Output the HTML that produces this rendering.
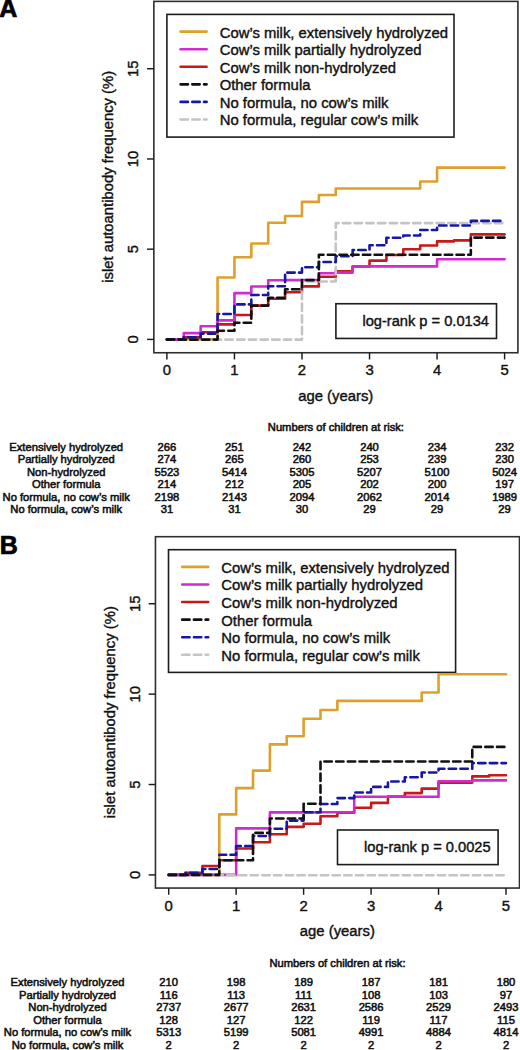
<!DOCTYPE html>
<html><head><meta charset="utf-8"><style>
html,body{margin:0;padding:0;background:#fff;}
svg{display:block;}
.t{font-family:"Liberation Sans", sans-serif;font-size:14.85px;fill:#111;stroke:#111;stroke-width:0.4px;}
.s{font-family:"Liberation Sans", sans-serif;font-size:11.2px;fill:#111;stroke:#111;stroke-width:0.55px;}
.L{font-family:"Liberation Sans", sans-serif;font-size:25px;font-weight:bold;fill:#000;stroke:#000;stroke-width:0.7px;}
.lg{font-size:14.85px;}
.lr{font-size:14.65px;}
</style></head><body>
<svg width="520" height="1050" viewBox="0 0 520 1050">
<rect width="520" height="1050" fill="#fff"/>
<rect x="153.85" y="1.40" width="364.05" height="351.35" fill="none" stroke="#2e2e2e" stroke-width="1.6"/>
<line x1="147.05" y1="339.40" x2="153.85" y2="339.40" stroke="#1c1c1c" stroke-width="1.45"/>
<text x="138.40" y="339.40" transform="rotate(-90 138.40 339.40)" text-anchor="middle" class="t">0</text>
<line x1="147.05" y1="249.18" x2="153.85" y2="249.18" stroke="#1c1c1c" stroke-width="1.45"/>
<text x="138.40" y="249.18" transform="rotate(-90 138.40 249.18)" text-anchor="middle" class="t">5</text>
<line x1="147.05" y1="158.97" x2="153.85" y2="158.97" stroke="#1c1c1c" stroke-width="1.45"/>
<text x="138.40" y="158.97" transform="rotate(-90 138.40 158.97)" text-anchor="middle" class="t">10</text>
<line x1="147.05" y1="68.75" x2="153.85" y2="68.75" stroke="#1c1c1c" stroke-width="1.45"/>
<text x="138.40" y="68.75" transform="rotate(-90 138.40 68.75)" text-anchor="middle" class="t">15</text>
<line x1="166.90" y1="352.75" x2="166.90" y2="359.45" stroke="#1c1c1c" stroke-width="1.45"/>
<text x="166.90" y="375.40" text-anchor="middle" class="t">0</text>
<line x1="234.44" y1="352.75" x2="234.44" y2="359.45" stroke="#1c1c1c" stroke-width="1.45"/>
<text x="234.44" y="375.40" text-anchor="middle" class="t">1</text>
<line x1="301.98" y1="352.75" x2="301.98" y2="359.45" stroke="#1c1c1c" stroke-width="1.45"/>
<text x="301.98" y="375.40" text-anchor="middle" class="t">2</text>
<line x1="369.52" y1="352.75" x2="369.52" y2="359.45" stroke="#1c1c1c" stroke-width="1.45"/>
<text x="369.52" y="375.40" text-anchor="middle" class="t">3</text>
<line x1="437.06" y1="352.75" x2="437.06" y2="359.45" stroke="#1c1c1c" stroke-width="1.45"/>
<text x="437.06" y="375.40" text-anchor="middle" class="t">4</text>
<line x1="504.60" y1="352.75" x2="504.60" y2="359.45" stroke="#1c1c1c" stroke-width="1.45"/>
<text x="504.60" y="375.40" text-anchor="middle" class="t">5</text>
<text x="113.20" y="176.80" transform="rotate(-90 113.20 176.80)" text-anchor="middle" class="t lg">islet autoantibody frequency (%)</text>
<text x="335.75" y="400.90" text-anchor="middle" class="t">age (years)</text>
<text x="-0.80" y="17.10" class="L">A</text>
<rect x="166.90" y="14.40" width="287.1" height="122.7" fill="#fff" stroke="#1c1c1c" stroke-width="1.6"/>
<path d="M180.60,31.60 H206.60" stroke="#DDA02A" stroke-width="2.6" stroke-linecap="round" fill="none"/>
<text x="219.70" y="37.50" class="t lg">Cow’s milk, extensively hydrolyzed</text>
<path d="M180.60,49.18 H206.60" stroke="#D02AD0" stroke-width="2.6" stroke-linecap="round" fill="none"/>
<text x="219.70" y="55.08" class="t lg">Cow’s milk partially hydrolyzed</text>
<path d="M180.60,66.76 H206.60" stroke="#C81818" stroke-width="2.6" stroke-linecap="round" fill="none"/>
<text x="219.70" y="72.66" class="t lg">Cow’s milk non-hydrolyzed</text>
<path d="M180.60,84.34 H206.60" stroke="#111111" stroke-width="2.6" stroke-linecap="round" stroke-dasharray="7.4 4.3" fill="none"/>
<text x="219.70" y="90.24" class="t lg">Other formula</text>
<path d="M180.60,101.92 H206.60" stroke="#1616A8" stroke-width="2.6" stroke-linecap="round" stroke-dasharray="7.4 4.3" fill="none"/>
<text x="219.70" y="107.82" class="t lg">No formula, no cow’s milk</text>
<path d="M180.60,119.50 H206.60" stroke="#C4C4C4" stroke-width="2.6" stroke-linecap="round" stroke-dasharray="7.4 4.3" fill="none"/>
<text x="219.70" y="125.40" class="t lg">No formula, regular cow’s milk</text>
<g fill="none" stroke-width="2.6" stroke-linecap="round" stroke-linejoin="round">
<path d="M166.90,339.40 H217.56 V277.50 H234.44 V257.20 H251.33 V243.50 H268.21 V222.70 H285.10 V216.00 H301.98 V201.90 H318.87 V195.00 H335.75 V188.50 H420.18 V181.50 H437.06 V167.60 H504.60" stroke="#DDA02A"/>
<path d="M166.90,339.40 H183.78 V337.20 H200.67 V332.20 H217.56 V324.40 H234.44 V315.00 H251.33 V305.60 H268.21 V298.75 H285.10 V292.30 H301.98 V286.40 H318.87 V276.80 H335.75 V271.40 H352.63 V266.50 H369.52 V260.60 H386.41 V255.00 H403.29 V249.20 H420.18 V245.50 H437.06 V241.40 H453.95 V240.40 H470.83 V234.40 H504.60" stroke="#C81818"/>
<path d="M166.90,339.40 H183.78 V333.10 H200.67 V326.20 H217.56 V320.40 H234.44 V293.10 H251.33 V286.50 H268.21 V280.20 H285.10 V280.10 H318.87 V273.30 H335.75 V272.60 H352.63 V266.40 H437.06 V259.20 H504.60" stroke="#D02AD0"/>
<path d="M166.90,339.60 H301.98 V281.50 H335.75 V223.10 H504.60" stroke="#C4C4C4" stroke-dasharray="7.4 4.3"/>
<path d="M166.90,339.40 H183.78 V337.30 H200.67 V333.60 H217.56 V314.00 H234.44 V304.40 H251.33 V295.00 H268.21 V286.25 H285.10 V272.60 H301.98 V267.20 H318.87 V262.00 H335.75 V256.25 H352.63 V250.00 H369.52 V245.30 H386.41 V237.80 H403.29 V235.50 H420.18 V230.00 H437.06 V225.50 H470.83 V220.90 H504.60" stroke="#1616A8" stroke-dasharray="7.4 4.3"/>
<path d="M166.90,339.60 H217.56 V330.80 H234.44 V322.80 H251.33 V305.60 H268.21 V297.80 H285.10 V289.20 H301.98 V280.10 H318.87 V254.80 H470.83 V237.60 H504.60" stroke="#111111" stroke-dasharray="7.4 4.3"/>
</g>
<rect x="335.90" y="303.75" width="160.60" height="34.70" fill="#fff" stroke="#1c1c1c" stroke-width="1.6"/>
<text x="362.40" y="326.00" class="t lr">log-rank p = 0.0134</text>
<text x="335.90" y="431.30" text-anchor="middle" class="s">Numbers of children at risk:</text>
<text x="66.20" y="450.50" text-anchor="middle" class="s">Extensively hydrolyzed</text>
<text x="166.90" y="450.50" text-anchor="middle" class="s">266</text>
<text x="234.44" y="450.50" text-anchor="middle" class="s">251</text>
<text x="301.98" y="450.50" text-anchor="middle" class="s">242</text>
<text x="369.52" y="450.50" text-anchor="middle" class="s">240</text>
<text x="437.06" y="450.50" text-anchor="middle" class="s">234</text>
<text x="504.60" y="450.50" text-anchor="middle" class="s">232</text>
<text x="66.20" y="463.00" text-anchor="middle" class="s">Partially hydrolyzed</text>
<text x="166.90" y="463.00" text-anchor="middle" class="s">274</text>
<text x="234.44" y="463.00" text-anchor="middle" class="s">265</text>
<text x="301.98" y="463.00" text-anchor="middle" class="s">260</text>
<text x="369.52" y="463.00" text-anchor="middle" class="s">253</text>
<text x="437.06" y="463.00" text-anchor="middle" class="s">239</text>
<text x="504.60" y="463.00" text-anchor="middle" class="s">230</text>
<text x="66.20" y="475.50" text-anchor="middle" class="s">Non-hydrolyzed</text>
<text x="166.90" y="475.50" text-anchor="middle" class="s">5523</text>
<text x="234.44" y="475.50" text-anchor="middle" class="s">5414</text>
<text x="301.98" y="475.50" text-anchor="middle" class="s">5305</text>
<text x="369.52" y="475.50" text-anchor="middle" class="s">5207</text>
<text x="437.06" y="475.50" text-anchor="middle" class="s">5100</text>
<text x="504.60" y="475.50" text-anchor="middle" class="s">5024</text>
<text x="66.20" y="488.00" text-anchor="middle" class="s">Other formula</text>
<text x="166.90" y="488.00" text-anchor="middle" class="s">214</text>
<text x="234.44" y="488.00" text-anchor="middle" class="s">212</text>
<text x="301.98" y="488.00" text-anchor="middle" class="s">205</text>
<text x="369.52" y="488.00" text-anchor="middle" class="s">202</text>
<text x="437.06" y="488.00" text-anchor="middle" class="s">200</text>
<text x="504.60" y="488.00" text-anchor="middle" class="s">197</text>
<text x="66.20" y="500.50" text-anchor="middle" class="s">No formula, no cow’s milk</text>
<text x="166.90" y="500.50" text-anchor="middle" class="s">2198</text>
<text x="234.44" y="500.50" text-anchor="middle" class="s">2143</text>
<text x="301.98" y="500.50" text-anchor="middle" class="s">2094</text>
<text x="369.52" y="500.50" text-anchor="middle" class="s">2062</text>
<text x="437.06" y="500.50" text-anchor="middle" class="s">2014</text>
<text x="504.60" y="500.50" text-anchor="middle" class="s">1989</text>
<text x="66.20" y="513.00" text-anchor="middle" class="s">No formula, cow’s milk</text>
<text x="166.90" y="513.00" text-anchor="middle" class="s">31</text>
<text x="234.44" y="513.00" text-anchor="middle" class="s">31</text>
<text x="301.98" y="513.00" text-anchor="middle" class="s">30</text>
<text x="369.52" y="513.00" text-anchor="middle" class="s">29</text>
<text x="437.06" y="513.00" text-anchor="middle" class="s">29</text>
<text x="504.60" y="513.00" text-anchor="middle" class="s">29</text>
<rect x="155.45" y="536.70" width="364.05" height="351.35" fill="none" stroke="#2e2e2e" stroke-width="1.6"/>
<line x1="148.65" y1="874.90" x2="155.45" y2="874.90" stroke="#1c1c1c" stroke-width="1.45"/>
<text x="140.00" y="874.90" transform="rotate(-90 140.00 874.90)" text-anchor="middle" class="t">0</text>
<line x1="148.65" y1="784.52" x2="155.45" y2="784.52" stroke="#1c1c1c" stroke-width="1.45"/>
<text x="140.00" y="784.52" transform="rotate(-90 140.00 784.52)" text-anchor="middle" class="t">5</text>
<line x1="148.65" y1="694.13" x2="155.45" y2="694.13" stroke="#1c1c1c" stroke-width="1.45"/>
<text x="140.00" y="694.13" transform="rotate(-90 140.00 694.13)" text-anchor="middle" class="t">10</text>
<line x1="148.65" y1="603.75" x2="155.45" y2="603.75" stroke="#1c1c1c" stroke-width="1.45"/>
<text x="140.00" y="603.75" transform="rotate(-90 140.00 603.75)" text-anchor="middle" class="t">15</text>
<line x1="168.70" y1="888.05" x2="168.70" y2="894.75" stroke="#1c1c1c" stroke-width="1.45"/>
<text x="168.70" y="910.70" text-anchor="middle" class="t">0</text>
<line x1="236.16" y1="888.05" x2="236.16" y2="894.75" stroke="#1c1c1c" stroke-width="1.45"/>
<text x="236.16" y="910.70" text-anchor="middle" class="t">1</text>
<line x1="303.62" y1="888.05" x2="303.62" y2="894.75" stroke="#1c1c1c" stroke-width="1.45"/>
<text x="303.62" y="910.70" text-anchor="middle" class="t">2</text>
<line x1="371.08" y1="888.05" x2="371.08" y2="894.75" stroke="#1c1c1c" stroke-width="1.45"/>
<text x="371.08" y="910.70" text-anchor="middle" class="t">3</text>
<line x1="438.54" y1="888.05" x2="438.54" y2="894.75" stroke="#1c1c1c" stroke-width="1.45"/>
<text x="438.54" y="910.70" text-anchor="middle" class="t">4</text>
<line x1="506.00" y1="888.05" x2="506.00" y2="894.75" stroke="#1c1c1c" stroke-width="1.45"/>
<text x="506.00" y="910.70" text-anchor="middle" class="t">5</text>
<text x="114.80" y="712.10" transform="rotate(-90 114.80 712.10)" text-anchor="middle" class="t lg">islet autoantibody frequency (%)</text>
<text x="337.35" y="936.20" text-anchor="middle" class="t">age (years)</text>
<text x="-0.20" y="554.40" class="L">B</text>
<rect x="168.50" y="549.70" width="287.1" height="122.7" fill="#fff" stroke="#1c1c1c" stroke-width="1.6"/>
<path d="M182.20,566.90 H208.20" stroke="#DDA02A" stroke-width="2.6" stroke-linecap="round" fill="none"/>
<text x="221.30" y="572.80" class="t lg">Cow’s milk, extensively hydrolyzed</text>
<path d="M182.20,584.48 H208.20" stroke="#D02AD0" stroke-width="2.6" stroke-linecap="round" fill="none"/>
<text x="221.30" y="590.38" class="t lg">Cow’s milk partially hydrolyzed</text>
<path d="M182.20,602.06 H208.20" stroke="#C81818" stroke-width="2.6" stroke-linecap="round" fill="none"/>
<text x="221.30" y="607.96" class="t lg">Cow’s milk non-hydrolyzed</text>
<path d="M182.20,619.64 H208.20" stroke="#111111" stroke-width="2.6" stroke-linecap="round" stroke-dasharray="7.4 4.3" fill="none"/>
<text x="221.30" y="625.54" class="t lg">Other formula</text>
<path d="M182.20,637.22 H208.20" stroke="#1616A8" stroke-width="2.6" stroke-linecap="round" stroke-dasharray="7.4 4.3" fill="none"/>
<text x="221.30" y="643.12" class="t lg">No formula, no cow’s milk</text>
<path d="M182.20,654.80 H208.20" stroke="#C4C4C4" stroke-width="2.6" stroke-linecap="round" stroke-dasharray="7.4 4.3" fill="none"/>
<text x="221.30" y="660.70" class="t lg">No formula, regular cow’s milk</text>
<g fill="none" stroke-width="2.6" stroke-linecap="round" stroke-linejoin="round">
<path d="M168.70,874.90 H219.29 V814.40 H236.16 V788.10 H253.03 V770.60 H269.89 V744.40 H286.75 V736.25 H303.62 V718.75 H320.49 V710.00 H337.35 V700.90 H421.68 V692.50 H438.54 V674.20 H506.00" stroke="#DDA02A"/>
<path d="M168.70,874.90 H185.56 V872.90 H202.43 V866.00 H219.29 V860.20 H236.16 V848.50 H253.03 V842.30 H269.89 V834.20 H286.75 V826.90 H303.62 V823.75 H320.49 V816.25 H337.35 V812.60 H354.22 V807.75 H371.08 V802.90 H387.95 V796.50 H404.81 V793.10 H421.68 V788.60 H438.54 V782.60 H472.27 V776.40 H489.14 V775.30 H506.00" stroke="#C81818"/>
<path d="M168.70,874.90 H236.16 V828.40 H269.89 V812.40 H320.49 V812.20 H354.22 V796.70 H438.54 V781.20 H472.27 V780.40 H506.00" stroke="#D02AD0"/>
<path d="M168.70,875.20 H506.00" stroke="#C4C4C4" stroke-dasharray="7.4 4.3"/>
<path d="M168.70,874.90 H185.56 V872.90 H202.43 V869.00 H219.29 V854.80 H236.16 V846.00 H253.03 V836.00 H269.89 V828.80 H286.75 V820.60 H303.62 V812.25 H320.49 V804.00 H337.35 V798.10 H354.22 V792.50 H371.08 V786.90 H387.95 V781.50 H404.81 V777.25 H421.68 V772.50 H438.54 V768.80 H472.27 V763.10 H506.00" stroke="#1616A8" stroke-dasharray="7.4 4.3"/>
<path d="M168.70,874.90 H219.29 V860.20 H253.03 V832.90 H269.89 V818.50 H303.62 V803.75 H320.49 V761.50 H472.27 V746.90 H506.00" stroke="#111111" stroke-dasharray="7.4 4.3"/>
</g>
<rect x="337.50" y="830.00" width="160.60" height="34.60" fill="#fff" stroke="#1c1c1c" stroke-width="1.6"/>
<text x="364.00" y="852.30" class="t lr">log-rank p = 0.0025</text>
<text x="337.50" y="966.60" text-anchor="middle" class="s">Numbers of children at risk:</text>
<text x="67.48" y="986.10" text-anchor="middle" class="s">Extensively hydrolyzed</text>
<text x="168.70" y="986.10" text-anchor="middle" class="s">210</text>
<text x="236.16" y="986.10" text-anchor="middle" class="s">198</text>
<text x="303.62" y="986.10" text-anchor="middle" class="s">189</text>
<text x="371.08" y="986.10" text-anchor="middle" class="s">187</text>
<text x="438.54" y="986.10" text-anchor="middle" class="s">181</text>
<text x="506.00" y="986.10" text-anchor="middle" class="s">180</text>
<text x="67.48" y="998.60" text-anchor="middle" class="s">Partially hydrolyzed</text>
<text x="168.70" y="998.60" text-anchor="middle" class="s">116</text>
<text x="236.16" y="998.60" text-anchor="middle" class="s">113</text>
<text x="303.62" y="998.60" text-anchor="middle" class="s">111</text>
<text x="371.08" y="998.60" text-anchor="middle" class="s">108</text>
<text x="438.54" y="998.60" text-anchor="middle" class="s">103</text>
<text x="506.00" y="998.60" text-anchor="middle" class="s">97</text>
<text x="67.48" y="1011.10" text-anchor="middle" class="s">Non-hydrolyzed</text>
<text x="168.70" y="1011.10" text-anchor="middle" class="s">2737</text>
<text x="236.16" y="1011.10" text-anchor="middle" class="s">2677</text>
<text x="303.62" y="1011.10" text-anchor="middle" class="s">2631</text>
<text x="371.08" y="1011.10" text-anchor="middle" class="s">2586</text>
<text x="438.54" y="1011.10" text-anchor="middle" class="s">2529</text>
<text x="506.00" y="1011.10" text-anchor="middle" class="s">2493</text>
<text x="67.48" y="1023.60" text-anchor="middle" class="s">Other formula</text>
<text x="168.70" y="1023.60" text-anchor="middle" class="s">128</text>
<text x="236.16" y="1023.60" text-anchor="middle" class="s">127</text>
<text x="303.62" y="1023.60" text-anchor="middle" class="s">122</text>
<text x="371.08" y="1023.60" text-anchor="middle" class="s">119</text>
<text x="438.54" y="1023.60" text-anchor="middle" class="s">117</text>
<text x="506.00" y="1023.60" text-anchor="middle" class="s">115</text>
<text x="67.48" y="1036.10" text-anchor="middle" class="s">No formula, no cow’s milk</text>
<text x="168.70" y="1036.10" text-anchor="middle" class="s">5313</text>
<text x="236.16" y="1036.10" text-anchor="middle" class="s">5199</text>
<text x="303.62" y="1036.10" text-anchor="middle" class="s">5081</text>
<text x="371.08" y="1036.10" text-anchor="middle" class="s">4991</text>
<text x="438.54" y="1036.10" text-anchor="middle" class="s">4884</text>
<text x="506.00" y="1036.10" text-anchor="middle" class="s">4814</text>
<text x="67.48" y="1048.60" text-anchor="middle" class="s">No formula, cow’s milk</text>
<text x="168.70" y="1048.60" text-anchor="middle" class="s">2</text>
<text x="236.16" y="1048.60" text-anchor="middle" class="s">2</text>
<text x="303.62" y="1048.60" text-anchor="middle" class="s">2</text>
<text x="371.08" y="1048.60" text-anchor="middle" class="s">2</text>
<text x="438.54" y="1048.60" text-anchor="middle" class="s">2</text>
<text x="506.00" y="1048.60" text-anchor="middle" class="s">2</text>
</svg>
</body></html>
